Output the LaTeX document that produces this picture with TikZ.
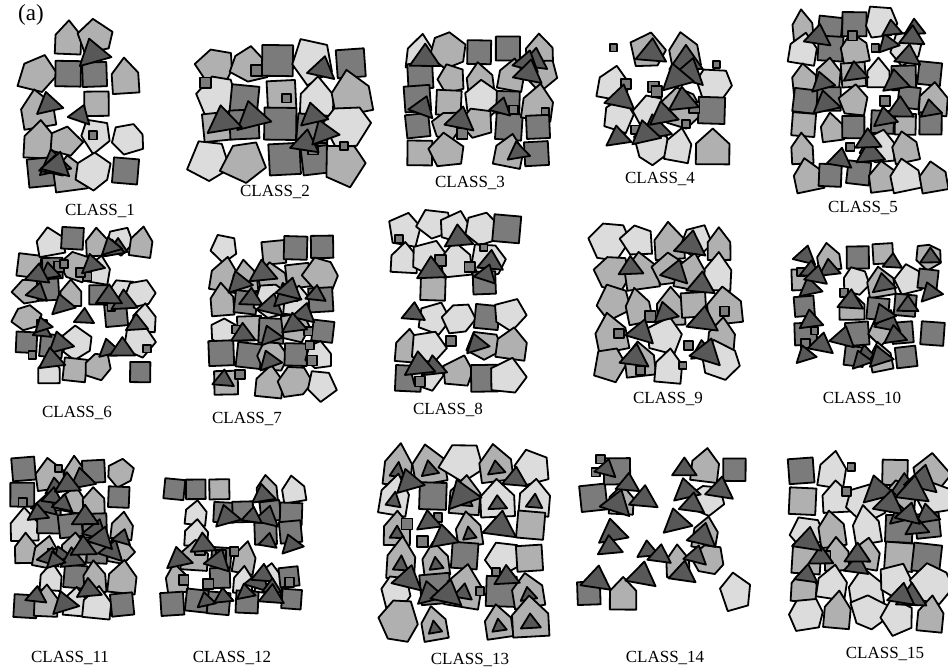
\documentclass[tikz,border=0pt]{standalone}
\usepackage{fontspec}
\setmainfont{Liberation Serif}
\definecolor{cTri}{HTML}{585858}
\definecolor{cSq}{HTML}{7B7B7B}
\definecolor{cMd}{HTML}{B0B0B0}
\definecolor{cLt}{HTML}{DCDCDC}
\tikzset{
 shp/.style={draw=black, line width=1.8pt, line join=round},
 lbl/.style={font=\fontsize{17}{20}\selectfont, inner sep=0pt},
 tag/.style={font=\fontsize{23}{26}\selectfont, inner sep=0pt},
}
% irregular polygon (5 or 6 corners)
\newcommand\polyat[4]{%
 \pgfmathsetmacro\pa{rnd*72}%
 \pgfmathtruncatemacro\pv{rnd<0.5?1:0}%
 \ifnum\pv=1
 \draw[shp,fill=#4,shift={(#1,#2)}]
  ({\pa}:{#3*(0.8+0.35*rnd)}) -- ({\pa+60+10*rnd}:{#3*(0.8+0.35*rnd)})
  -- ({\pa+120+10*rnd}:{#3*(0.8+0.35*rnd)}) -- ({\pa+180+10*rnd}:{#3*(0.8+0.35*rnd)})
  -- ({\pa+240+10*rnd}:{#3*(0.8+0.35*rnd)}) -- ({\pa+300+10*rnd}:{#3*(0.8+0.35*rnd)}) -- cycle;
 \else
 \draw[shp,fill=#4,shift={(#1,#2)}]
  ({\pa}:{#3*(0.8+0.35*rnd)}) -- ({\pa+72+10*rnd}:{#3*(0.8+0.35*rnd)})
  -- ({\pa+144+10*rnd}:{#3*(0.8+0.35*rnd)}) -- ({\pa+216+10*rnd}:{#3*(0.8+0.35*rnd)})
  -- ({\pa+288+10*rnd}:{#3*(0.8+0.35*rnd)}) -- cycle;
 \fi
}
% house-shaped pentagon
\newcommand\houseat[5]{%
 \pgfmathsetmacro\pw{#3*(0.7+0.25*rnd)}%
 \draw[shp,fill=#5,shift={(#1,#2)},rotate=#4]
  (-\pw,#3) -- (\pw,#3) -- (\pw,{-0.15*#3}) -- (0,{-#3*(1+0.2*rnd)}) -- (-\pw,{-0.15*#3}) -- cycle;
 \ifnum\inner=1
 \draw[shp,fill=cTri,shift={(#1,#2)},rotate=#4]
  ({-0.55*\pw},{0.55*#3}) -- ({0.55*\pw},{0.55*#3}) -- (0,{-0.2*#3}) -- cycle;
 \fi
}
\newcommand\sqat[5]{%
 \draw[shp,fill=#5,shift={(#1,#2)},rotate=#4]
  (-#3,-#3) -- (#3,-#3) -- (#3,#3) -- (-#3,#3) -- cycle;
}
\newcommand\triat[4]{%
 \draw[shp,fill=cTri,shift={(#1,#2)},rotate=#4]
  (-#3,{0.55*#3}) -- (#3,{0.55*#3}) -- (0,{-0.9*#3}) -- cycle;
}
% #1..#4 box, #5 cell, #6 p(poly), #7 p(house), #8 p(square), #9 triangles
\newcommand\cluster[9]{%
 \pgfmathtruncatemacro\pnc{max(1,round((#3-#1)/#5))}%
 \pgfmathtruncatemacro\pnr{max(1,round((#4-#2)/#5))}%
 \pgfmathsetmacro\pdx{(#3-#1)/\pnc}%
 \pgfmathsetmacro\pdy{(#4-#2)/\pnr}%
 \pgfmathsetmacro\pta{#6}%
 \pgfmathsetmacro\ptb{#6+#7}%
 \pgfmathsetmacro\ptc{#6+#7+#8}%
 \foreach \i in {1,...,\pnc}{%
  \foreach \j in {1,...,\pnr}{%
   \pgfmathsetmacro\pcx{#1+(\i-0.5)*\pdx+(rnd-0.5)*0.25*#5}%
   \pgfmathsetmacro\pcy{#2+(\j-0.5)*\pdy+(rnd-0.5)*0.25*#5}%
   \pgfmathsetmacro\pp{rnd}%
   \ifdim\pp pt<\pta pt
     \pgfmathsetmacro\ps{#5*(0.55+0.15*rnd)}%
     \pgfmathtruncatemacro\pc{rnd<0.6?1:0}%
     \ifnum\pc=1 \def\pcol{cLt}\else\def\pcol{cMd}\fi
     \polyat{\pcx}{\pcy}{\ps}{\pcol}%
   \else\ifdim\pp pt<\ptb pt
     \pgfmathsetmacro\ps{#5*(0.5+0.12*rnd)}%
     \pgfmathsetmacro\pr{(rnd-0.5)*24}%
     \pgfmathtruncatemacro\pc{rnd<0.25?1:0}%
     \ifnum\pc=1 \def\pcol{cLt}\else\def\pcol{cMd}\fi
     \houseat{\pcx}{\pcy}{\ps}{\pr}{\pcol}%
   \else\ifdim\pp pt<\ptc pt
     \pgfmathsetmacro\ps{#5*(0.4+0.08*rnd)}%
     \pgfmathsetmacro\pr{(rnd-0.5)*14}%
     \pgfmathtruncatemacro\pc{rnd<0.85?1:0}%
     \ifnum\pc=1 \def\pcol{cSq}\else\def\pcol{cMd}\fi
     \sqat{\pcx}{\pcy}{\ps}{\pr}{\pcol}%
   \fi\fi\fi
  }%
 }%
 \foreach \k in {1,...,\nsm}{%
  \pgfmathsetmacro\ps{3.5+2*rnd}%
  \pgfmathsetmacro\pcx{#1+\ps+rnd*(#3-#1-2*\ps)}%
  \pgfmathsetmacro\pcy{#2+\ps+rnd*(#4-#2-2*\ps)}%
  \sqat{\pcx}{\pcy}{\ps}{0}{cSq}%
 }%
 \foreach \k in {1,...,#9}{%
  \pgfmathsetmacro\ps{#5*(0.38+0.18*rnd)}%
  \pgfmathsetmacro\pcx{#1+\ps+rnd*(#3-#1-2*\ps)}%
  \pgfmathsetmacro\pcy{#2+\ps+rnd*(#4-#2-2*\ps)}%
  \pgfmathsetmacro\pr{(rnd-0.5)*40}%
  \triat{\pcx}{\pcy}{\ps}{\pr}%
 }%
}
\def\inner{0}
\begin{document}
\begin{tikzpicture}[x=1pt,y=-1pt]
\fill[white] (0,0) rectangle (948,671);
\useasboundingbox (0,0) rectangle (948,671);
\clip (0,0) rectangle (948,671);
\pgfmathsetseed{4711}
\node[tag] (tag) at (31,15) {(a)};
% CLASS_1
\def\nsm{1}\cluster{24}{24}{140}{188}{30}{0.2}{0.35}{0.35}{6}
% CLASS_2
\def\nsm{6}\cluster{198}{48}{365}{176}{34}{0.55}{0.2}{0.2}{6}
% CLASS_3
\def\nsm{3}\cluster{402}{38}{555}{164}{28}{0.25}{0.3}{0.4}{8}
% CLASS_4
\def\nsm{8}\cluster{600}{36}{730}{158}{30}{0.3}{0.35}{0.15}{10}
% CLASS_5
\def\nsm{4}\cluster{792}{14}{945}{186}{26}{0.2}{0.25}{0.4}{16}
% CLASS_6
\def\nsm{8}\cluster{17}{228}{153}{382}{24}{0.2}{0.3}{0.3}{18}
% CLASS_7
\def\nsm{5}\cluster{212}{236}{333}{396}{26}{0.35}{0.25}{0.3}{14}
% CLASS_8
\def\nsm{6}\cluster{392}{212}{523}{390}{28}{0.2}{0.2}{0.22}{8}
% CLASS_9
\def\nsm{6}\cluster{600}{228}{735}{378}{30}{0.35}{0.35}{0.2}{10}
% CLASS_10
\def\nsm{4}\cluster{792}{243}{943}{372}{24}{0.2}{0.3}{0.3}{22}
% CLASS_11
\def\nsm{3}\cluster{12}{458}{133}{617}{25}{0.2}{0.4}{0.3}{20}
% CLASS_12
\def\nsm{6}\cluster{162}{478}{303}{612}{24}{0.05}{0.2}{0.45}{16}
% CLASS_13
\def\inner{1}
\def\nsm{5}\cluster{382}{448}{548}{636}{32}{0.15}{0.55}{0.2}{10}
\def\inner{0}
% CLASS_14
\def\nsm{2}\cluster{577}{453}{748}{606}{28}{0.12}{0.15}{0.2}{18}
% CLASS_15
\def\nsm{3}\cluster{787}{458}{945}{628}{30}{0.35}{0.3}{0.3}{16}
% labels
\node[lbl] (l1) at (100,211) {CLASS\_1};
\node[lbl] (l2) at (275,192) {CLASS\_2};
\node[lbl] (l3) at (470,183) {CLASS\_3};
\node[lbl] (l4) at (660,179) {CLASS\_4};
\node[lbl] (l5) at (863,208) {CLASS\_5};
\node[lbl] (l6) at (77,413) {CLASS\_6};
\node[lbl] (l7) at (247,419) {CLASS\_7};
\node[lbl] (l8) at (448,410) {CLASS\_8};
\node[lbl] (l9) at (668,399) {CLASS\_9};
\node[lbl] (l10) at (862,399) {CLASS\_10};
\node[lbl] (l11) at (70,658) {CLASS\_11};
\node[lbl] (l12) at (232,658) {CLASS\_12};
\node[lbl] (l13) at (470,660) {CLASS\_13};
\node[lbl] (l14) at (665,658) {CLASS\_14};
\node[lbl] (l15) at (885,654) {CLASS\_15};
\end{tikzpicture}
\end{document}
